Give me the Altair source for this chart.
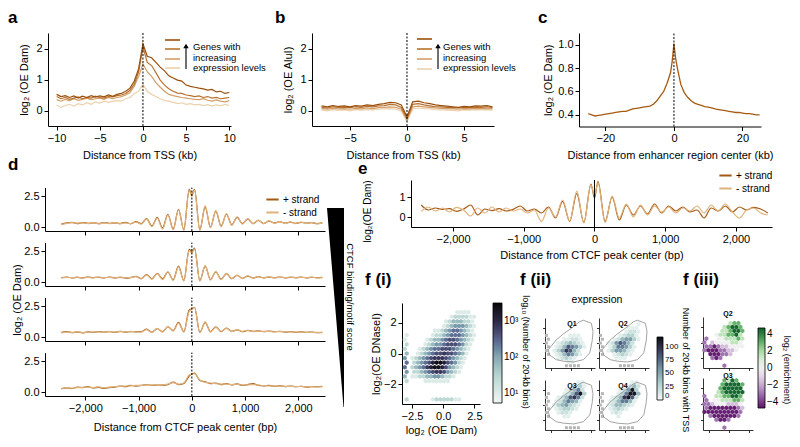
import altair as alt
import pandas as pd

W, H = 784, 431
FONT = "Liberation Sans"

# ---------------- panel a / b : profiles around TSS ----------------
A_X = [i / 2 for i in range(-20, 21)]
A_Q4 = [0.52,0.45,0.48,0.42,0.47,0.40,0.46,0.42,0.48,0.43,0.47,0.44,0.50,0.46,0.52,0.55,0.62,0.72,0.95,1.35,
        2.15,1.75,1.70,1.55,1.40,1.28,1.12,1.05,0.98,0.95,0.82,0.78,0.75,0.72,0.70,0.66,0.68,0.60,0.62,0.55,0.58]
A_Q3 = [0.45,0.38,0.42,0.36,0.40,0.44,0.38,0.42,0.40,0.46,0.42,0.40,0.45,0.44,0.48,0.50,0.55,0.65,0.85,1.25,
        2.05,1.55,1.45,1.22,0.98,0.82,0.70,0.62,0.56,0.55,0.50,0.48,0.45,0.47,0.42,0.45,0.40,0.42,0.38,0.40,0.42]
A_Q2 = [0.35,0.30,0.36,0.32,0.38,0.33,0.36,0.40,0.35,0.38,0.40,0.36,0.42,0.38,0.42,0.45,0.50,0.58,0.78,1.10,
        1.50,1.25,1.10,0.90,0.75,0.62,0.52,0.48,0.45,0.42,0.40,0.38,0.36,0.35,0.38,0.33,0.30,0.34,0.30,0.28,0.32]
A_Q1 = [0.18,0.10,0.16,0.20,0.14,0.22,0.18,0.25,0.20,0.28,0.24,0.30,0.26,0.30,0.32,0.30,0.38,0.42,0.55,0.62,
        0.85,0.62,0.52,0.45,0.38,0.32,0.30,0.26,0.22,0.25,0.20,0.22,0.18,0.20,0.16,0.19,0.14,0.18,0.15,0.20,0.16]

B_X = [i / 2 for i in range(-15, 16)]
B_Q4 = [0.15,0.12,0.16,0.13,0.15,0.12,0.16,0.14,0.18,0.16,0.20,0.22,0.26,0.25,0.18,-0.20,
        0.28,0.30,0.25,0.22,0.18,0.16,0.14,0.12,0.10,0.13,0.12,0.15,0.14,0.16,0.12]
B_Q3 = [0.10,0.08,0.12,0.10,0.11,0.09,0.12,0.10,0.13,0.12,0.15,0.16,0.20,0.18,0.10,-0.25,
        0.20,0.22,0.18,0.15,0.12,0.12,0.10,0.09,0.08,0.10,0.09,0.11,0.10,0.12,0.09]
B_Q2 = [0.06,0.04,0.07,0.05,0.06,0.04,0.07,0.05,0.08,0.06,0.09,0.10,0.12,0.10,0.04,-0.30,
        0.12,0.14,0.12,0.10,0.08,0.07,0.06,0.05,0.04,0.06,0.05,0.07,0.06,0.07,0.05]
B_Q1 = [0.02,-0.01,0.03,0.00,0.02,-0.01,0.03,0.01,0.03,0.02,0.04,0.05,0.06,0.04,-0.02,-0.35,
        0.05,0.08,0.06,0.05,0.03,0.02,0.01,0.00,-0.01,0.02,0.01,0.03,0.02,0.03,0.01]

SER_NAMES = ["q1", "q2", "q3", "q4"]
SER_COLORS = ["#ecd1ae", "#d29d66", "#b8712f", "#9a4e0b"]

# ---------------- panel c : enhancers ----------------
C_X = list(range(-25, 0)) + [-0.5, 0, 0.5] + list(range(1, 26))
C_Y = [0.41,0.40,0.39,0.395,0.40,0.405,0.41,0.415,0.42,0.425,0.43,0.43,0.44,0.45,0.455,0.46,0.465,0.47,0.475,0.49,
       0.52,0.56,0.60,0.67,0.76,
       0.86,1.01,0.88,
       0.80,0.66,0.59,0.55,0.52,0.50,0.49,0.48,0.47,0.465,0.46,0.45,0.445,0.44,0.435,0.43,0.425,0.42,0.42,0.415,
       0.41,0.41,0.405,0.40,0.40]

# ---------------- panel d / e : CTCF peaks ----------------
D_X = [-2450 + 100 * i for i in range(25)] + [0] + [50 + 100 * i for i in range(25)]
D1_P = [0.25,0.35,0.40,0.30,0.38,0.32,0.36,0.30,0.38,0.32,0.36,0.30,0.40,0.28,0.45,
        0.30,0.70,0.10,0.80,-0.05,1.05,-0.15,1.45,-0.20,3.05, 2.60,
        3.05,-0.20,1.65,0.00,1.30,0.10,1.05,0.20,0.80,0.30,0.65,0.30,0.55,0.30,0.50,0.35,0.45,0.33,0.42,0.32,0.40,0.33,0.38,0.30,0.35]
D1_M = [0.22,0.32,0.38,0.33,0.35,0.30,0.38,0.28,0.36,0.30,0.38,0.28,0.35,0.30,0.42,
        0.25,0.65,0.05,0.75,-0.15,1.00,-0.20,1.40,-0.25,2.95, 2.50,
        3.00,-0.25,1.75,-0.05,1.35,0.05,1.10,0.15,0.85,0.25,0.70,0.28,0.58,0.30,0.52,0.32,0.46,0.30,0.44,0.30,0.42,0.30,0.40,0.28,0.36]
D2_P = [0.38,0.42,0.35,0.40,0.36,0.42,0.38,0.40,0.35,0.42,0.36,0.40,0.34,0.38,0.48,
        0.30,0.62,0.28,0.72,0.28,0.83,0.20,1.30,0.14,2.65, 2.45,
        2.75,0.14,1.30,0.22,0.83,0.25,0.70,0.30,0.55,0.32,0.50,0.35,0.45,0.36,0.42,0.38,0.42,0.36,0.40,0.38,0.41,0.36,0.40,0.37,0.39]
D2_M = [0.36,0.40,0.37,0.42,0.34,0.40,0.36,0.42,0.37,0.40,0.34,0.42,0.36,0.40,0.45,
        0.28,0.60,0.25,0.70,0.22,0.85,0.15,1.25,0.10,2.55, 2.35,
        2.70,0.10,1.35,0.18,0.88,0.22,0.72,0.28,0.58,0.30,0.52,0.33,0.46,0.35,0.44,0.36,0.40,0.38,0.42,0.36,0.40,0.38,0.41,0.36,0.38]
D3_P = [0.40,0.45,0.38,0.42,0.36,0.44,0.40,0.46,0.42,0.45,0.40,0.48,0.42,0.46,0.44,
        0.45,0.65,0.40,0.70,0.45,0.85,0.55,1.20,0.45,2.20, 2.30,
        2.42,0.40,1.20,0.45,0.85,0.45,0.75,0.48,0.60,0.45,0.55,0.48,0.52,0.45,0.50,0.45,0.48,0.42,0.46,0.40,0.44,0.40,0.42,0.38,0.40]
D3_M = [0.35,0.42,0.40,0.44,0.38,0.42,0.42,0.44,0.40,0.47,0.42,0.46,0.44,0.48,0.42,
        0.42,0.62,0.38,0.72,0.42,0.88,0.50,1.15,0.42,2.10, 2.25,
        2.40,0.38,1.25,0.42,0.80,0.48,0.72,0.45,0.62,0.48,0.55,0.46,0.50,0.47,0.48,0.44,0.46,0.44,0.44,0.42,0.42,0.40,0.40,0.40,0.38]
D4_P = [0.28,0.35,0.30,0.42,0.38,0.45,0.35,0.40,0.32,0.38,0.42,0.50,0.45,0.55,0.50,
        0.55,0.62,0.56,0.60,0.58,0.62,0.82,0.62,0.72,1.30, 1.50,
        1.55,0.95,0.85,0.70,0.75,0.62,0.70,0.60,0.68,0.55,0.62,0.70,0.55,0.52,0.55,0.48,0.52,0.46,0.50,0.45,0.48,0.42,0.46,0.45,0.48]
D4_M = [0.30,0.38,0.33,0.38,0.40,0.42,0.38,0.44,0.36,0.42,0.45,0.48,0.50,0.52,0.55,
        0.56,0.60,0.58,0.62,0.60,0.66,0.78,0.65,0.75,1.40, 1.45,
        1.50,1.00,0.80,0.75,0.70,0.65,0.66,0.62,0.64,0.58,0.60,0.62,0.58,0.54,0.52,0.50,0.50,0.48,0.48,0.46,0.47,0.44,0.45,0.43,0.45]
E_P = [0.60,0.35,0.45,0.38,0.42,0.28,0.40,0.60,0.10,0.40,0.32,0.42,0.30,0.38,0.55,
       0.30,0.40,0.20,0.50,-0.05,0.78,-0.22,1.18,-0.28,1.65, 0.95,
       1.77,-0.23,1.00,-0.15,0.60,0.10,0.55,0.15,0.65,0.20,0.55,0.30,0.50,0.25,0.35,-0.05,0.45,0.30,0.55,0.25,0.50,0.35,0.48,0.40,0.20]
E_M = [0.28,0.50,0.30,0.45,0.25,0.48,0.35,0.05,0.45,0.20,0.50,0.25,0.45,0.30,0.40,
       0.20,0.35,-0.22,0.45,0.00,0.85,-0.20,1.30,-0.30,1.60, 1.10,
       1.70,-0.28,1.05,-0.05,0.65,0.00,0.60,0.10,0.55,0.25,0.50,0.20,0.45,0.30,0.55,0.20,0.60,0.30,0.65,0.25,-0.05,0.35,0.45,0.20,0.10]
STRANDS = ["+ strand", "- strand"]
STRAND_COLORS = ["#a45a14", "#dfb27c"]

# ---------------- panel f(i) : hexbin density (levels 1-9), rows y=2.7 .. -3.0, cols x=-3.0 .. 2.7 ----------------
F1_ROWS = [
    "00000000000000111100",
    "00000000000012222110",
    "00000000000123332210",
    "00000000001234443210",
    "00000000112345543210",
    "10000001223455543210",
    "10000012334566543210",
    "20000123445666542100",
    "20001234556665432100",
    "30012345667665431000",
    "40123456777654321000",
    "50234568998654210000",
    "50234578998643210000",
    "40223456776432100000",
    "30112233443221000000",
    "20000111111100000000",
    "00000000000000000000",
    "00000000000000000000",
    "00000000000000000000",
    "20000001222221100000",
]
F1_LOG10 = {"1": 1.0, "2": 1.4, "3": 1.8, "4": 2.1, "5": 2.4, "6": 2.65, "7": 2.85, "8": 3.1, "9": 3.4}

# ---------------- panel f(ii) : counts per expression quartile, rows y=3.0 .. -3.0, cols x=-3.0 .. 2.5 ----------------
F2_Q1 = ["000000000000","000000000000","000000000000","000000000000","x00000111000","x00011221000",
         "x00123432100","x01247653100","x01358742000","x01246531000","000123210000","000001100000","00000xxxx000"]
F2_Q2 = ["000000000000","000000000100","000000011100","000000122100","x00001233100","x00124553100",
         "x01257642000","x01366531000","x01355421000","x00123210000","000011100000","000000000000","00000xxxx000"]
F2_Q3 = ["000000001100","000000123100","000001246200","x00012479300","x00124786200","x01246541000",
         "x01345321000","x01233210000","x00122100000","x00011000000","000000000000","000000000000","00000xxxx000"]
F2_Q4 = ["000000001100","000000124200","000001259300","x00013699400","x00124897200","x01246641000",
         "x01244321000","x01232100000","x00121000000","x00010000000","000000000000","000000000000","00000xxxx000"]
F2_COUNT = {"1": 8, "2": 18, "3": 30, "4": 42, "5": 55, "6": 68, "7": 82, "8": 96, "9": 112}
OUT_X = [-2.9, -1.9, -1.0, 0.2, 1.0, 1.5, 2.5, 2.7, 2.6, 2.3, 1.5, 0.3, -1.0, -1.9, -2.7, -2.9]
OUT_Y = [-0.9, 0.4, 1.2, 2.1, 2.8, 3.0, 2.6, 1.5, 0.3, -1.3, -2.2, -2.5, -2.4, -2.2, -1.6, -0.9]

# ---------------- panel f(iii) : log2 enrichment ----------------
F3_Q2 = ["000000000000","000000hgg000","00000hgGGg00","0000hhgGGg00","000whhggGh00","p00wwhhhgh00",
         "p0qwwwwhhw00","ppPpqqwwww00","pPPPppqqw000","0PPPppq00000","00pPp0000000","000000000000","00000p000000"]
F3_Q3 = ["00000ghGg000","0000gGGGGg00","0000gGGGGG00","000hgGGGGG00","p00hhggGGg00","p0wwhhhggh00",
         "ppqwwwqqqw00","pPPPPPPPpq00","PPPPPPPPPp00","0pPPPPPPp000","000pPPp00000","000000000000","00000p000000"]
F3_VAL = {"P": -4.5, "p": -3.0, "q": -1.5, "w": 0.0, "h": 1.5, "g": 3.0, "G": 4.5}

HEX = "M0,-1L0.866,-0.5L0.866,0.5L0,1L-0.866,0.5L-0.866,-0.5Z"


# ================= helpers =================
def lin(domain, rng):
    return alt.Scale(domain=domain, range=rng, nice=False, zero=False)


PX = lin([0, W], [0, W])
PY = lin([0, H], [0, H])


def xaxis(bottom, values=None, fmt=None, title=None, labels=True, tick=4, lpad=2, tpad=5, lsize=11, lw=1.0):
    kw = dict(orient="bottom", offset=bottom - H, tickSize=tick, labels=labels, labelPadding=lpad,
              titlePadding=tpad, labelFontSize=lsize, domainWidth=lw, tickWidth=lw, grid=False,
              labelFlush=False, title=title)
    if values is not None:
        kw["values"] = values
    if fmt is not None:
        kw["format"] = fmt
    return alt.Axis(**kw)


def yaxis(left, values=None, fmt=None, title=None, labels=True, tick=4, lpad=2, tpad=4, lsize=11, lw=1.0,
          title_y=None, tsize=11):
    kw = dict(orient="left", offset=-left, tickSize=tick, labels=labels, labelPadding=lpad,
              titlePadding=tpad, labelFontSize=lsize, titleFontSize=tsize, domainWidth=lw, tickWidth=lw,
              grid=False, labelFlush=False, title=title)
    if values is not None:
        kw["values"] = values
    if fmt is not None:
        kw["format"] = fmt
    if title_y is not None:
        kw["titleY"] = title_y
    return alt.Axis(**kw)


def tidy(xs, series):
    rows = []
    for name, vals in series:
        for x, v in zip(xs, vals):
            rows.append({"x": x, "y": v, "s": name})
    return pd.DataFrame(rows)


def zero_rule(xs, ys, lo, hi, dash=True):
    df = pd.DataFrame({"x": [0.0], "y1": [lo], "y2": [hi]})
    kw = dict(color="black", strokeWidth=1)
    if dash:
        kw["strokeDash"] = [2, 1.5]
    return alt.Chart(df).mark_rule(**kw).encode(
        x=alt.X("x:Q", scale=xs, axis=None),
        y=alt.Y("y1:Q", scale=ys, axis=None),
        y2="y2:Q",
    )


def cell_df(rows, lut, x0, step, ytop, keep):
    recs = []
    for i, row in enumerate(rows):
        shift = step / 4 if i % 2 else -step / 4
        for j, ch in enumerate(row):
            if ch in keep:
                recs.append({"x": x0 + j * step + shift, "y": ytop - i * step, "v": lut.get(ch, 0)})
    return pd.DataFrame(recs)


layers = []

# ================= panel a =================
ax_s, ay_s = lin([-11, 10.2], [40, 223]), lin([-0.5, 2.5], [118, 25])
dfa = tidy(A_X, [("q1", A_Q1), ("q2", A_Q2), ("q3", A_Q3), ("q4", A_Q4)])
layers.append(alt.Chart(dfa).mark_line(strokeWidth=1.2).encode(
    x=alt.X("x:Q", scale=ax_s, axis=xaxis(118, [-10, -5, 0, 5, 10], "d", "Distance from TSS (kb)", tpad=6)),
    y=alt.Y("y:Q", scale=ay_s, axis=yaxis(40, [0, 1, 2], "d", "log₂ (OE Dam)", tpad=6)),
    color=alt.Color("s:N", scale=alt.Scale(domain=SER_NAMES, range=SER_COLORS), legend=None),
))
layers.append(zero_rule(ax_s, ay_s, -0.5, 2.5))

# ================= panel b =================
bx_s, by_s = lin([-8.33, 7.63], [304, 486]), lin([-0.5, 2.5], [118, 25])
dfb = tidy(B_X, [("q1", B_Q1), ("q2", B_Q2), ("q3", B_Q3), ("q4", B_Q4)])
layers.append(alt.Chart(dfb).mark_line(strokeWidth=1.2).encode(
    x=alt.X("x:Q", scale=bx_s, axis=xaxis(118, [-5, 0, 5], "d", "Distance from TSS (kb)", tpad=6)),
    y=alt.Y("y:Q", scale=by_s, axis=yaxis(304, [0, 1, 2], "d", "log₂ (OE AluI)", tpad=6)),
    color=alt.Color("s:N", scale=alt.Scale(domain=SER_NAMES, range=SER_COLORS), legend=None),
))
layers.append(zero_rule(bx_s, by_s, -0.5, 2.5))

# ================= panel c =================
cx_s, cy_s = lin([-27.7, 25.4], [571, 753]), lin([0.3, 1.1], [118.5, 25])
dfc = pd.DataFrame({"x": C_X, "y": C_Y})
layers.append(alt.Chart(dfc).mark_line(strokeWidth=1.3, color="#a65a12").encode(
    x=alt.X("x:Q", scale=cx_s, axis=xaxis(118.5, [-20, 0, 20], "d", "Distance from enhancer region center (kb)", tpad=6)),
    y=alt.Y("y:Q", scale=cy_s, axis=yaxis(571, [0.4, 0.6, 0.8, 1.0], ".1f", "log₂ (OE Dam)")),
))
layers.append(zero_rule(cx_s, cy_s, 0.3, 1.1))

# ================= panel d =================
dx_s = lin([-2757, 2500], [37, 317])
d_rows = [(D1_P, D1_M, 223), (D2_P, D2_M, 278), (D3_P, D3_M, 333), (D4_P, D4_M, 388)]
for k, (pv, mv, bottom) in enumerate(d_rows):
    dy_s = lin([-0.3, 3.2], [bottom, bottom - 43.4])
    last = k == 3
    dfd = tidy(D_X, [("+ strand", pv), ("- strand", mv)])
    leg = alt.Legend(orient="none", legendX=257, legendY=184, title=None, symbolType="stroke",
                     symbolStrokeWidth=2, symbolSize=150, labelFontSize=10, rowPadding=0,
                     labelOffset=3) if k == 0 else None
    xa = xaxis(bottom, [-2000, -1000, 0, 1000, 2000], ",.0f",
               "Distance from CTCF peak center (bp)" if last else None, labels=last, tpad=8)
    layers.append(alt.Chart(dfd).mark_line(strokeWidth=1.2, interpolate="monotone").encode(
        x=alt.X("x:Q", scale=dx_s, axis=xa),
        y=alt.Y("y:Q", scale=dy_s, axis=yaxis(37, [0, 2.5], ".1f")),
        color=alt.Color("s:N", scale=alt.Scale(domain=STRANDS, range=STRAND_COLORS), legend=leg),
    ))
    layers.append(zero_rule(dx_s, dy_s, -0.3, 3.2))

# ================= panel e =================
ex_s, ey_s = lin([-2594, 2510], [403, 764]), lin([-0.5, 1.85], [219, 172])
dfe = tidy(D_X, [("+ strand", E_P), ("- strand", E_M)])
layers.append(alt.Chart(dfe).mark_line(strokeWidth=1.2, interpolate="monotone").encode(
    x=alt.X("x:Q", scale=ex_s, axis=xaxis(219, [-2000, -1000, 0, 1000, 2000], ",.0f", "Distance from CTCF peak center (bp)")),
    y=alt.Y("y:Q", scale=ey_s, axis=yaxis(403, [0, 1], "d", "log₂(OE Dam)", tpad=26, title_y=203, tsize=10)),
    color=alt.Color("s:N", scale=alt.Scale(domain=STRANDS, range=STRAND_COLORS),
                    legend=alt.Legend(orient="none", legendX=710, legendY=160, title=None, symbolType="stroke",
                                      symbolStrokeWidth=2, symbolSize=150, labelFontSize=10, rowPadding=0,
                                      labelOffset=3)),
))
layers.append(zero_rule(ex_s, ey_s, -0.5, 1.85, dash=False))

# ================= panel f(i) =================
f1x, f1y = lin([-3.3, 2.95], [394, 472]), lin([-3.3, 3.3], [396, 295])
df1 = cell_df(F1_ROWS, F1_LOG10, -3.0, 0.3, 2.7, set("123456789"))
layers.append(alt.Chart(df1).mark_point(shape=HEX, filled=True, size=22, opacity=1, strokeWidth=0).encode(
    x=alt.X("x:Q", scale=f1x, axis=xaxis(396, [-2.5, 0, 2.5], ".1f", "log₂ (OE Dam)", tpad=3)),
    y=alt.Y("y:Q", scale=f1y, axis=yaxis(394, [-2, 0, 2], "d", "log₂(OE DNaseI)", tpad=2)),
    color=alt.Color("v:Q", scale=alt.Scale(domain=[0.72, 1.5, 2.0, 2.5, 3.0, 3.5],
                                           range=["#f0f7f5", "#b7d5d1", "#86a6b2", "#59618a", "#2b2745", "#050508"]),
                    legend=alt.Legend(orient="none", legendX=485, legendY=295, direction="vertical", title=None,
                                      gradientLength=100, gradientThickness=9, values=[1, 2, 3],
                                      labelExpr="datum.value == 1 ? '10¹' : datum.value == 2 ? '10²' : '10³'",
                                      labelFontSize=10, labelOverlap=False, gradientStrokeColor="black",
                                      gradientStrokeWidth=0.8)),
))

# ================= panel f(ii) =================
f2_panels = [(F2_Q1, [537, 587], [360, 310]), (F2_Q2, [591, 641], [360, 310]),
             (F2_Q3, [537, 587], [422, 372]), (F2_Q4, [591, 641], [422, 372])]
for k, (grid, xr, yr) in enumerate(f2_panels):
    sx, sy = lin([-3.3, 2.95], xr), lin([-3.3, 3.3], yr)
    dfc2 = cell_df(grid, F2_COUNT, -3.0, 0.5, 3.0, set("123456789"))
    leg = alt.Legend(orient="none", legendX=649, legendY=329, direction="vertical", title=None,
                     gradientLength=63, gradientThickness=6, values=[0, 25, 50, 75, 100],
                     labelFontSize=8, labelOffset=2, labelOverlap=False, gradientStrokeColor="black",
                     gradientStrokeWidth=0.8) if k == 0 else None
    layers.append(alt.Chart(dfc2).mark_point(shape=HEX, filled=True, size=22, opacity=1, strokeWidth=0).encode(
        x=alt.X("x:Q", scale=sx, axis=xaxis(yr[0], [-2.5, 0, 2.5], labels=False, tick=2.5, lw=0.8)),
        y=alt.Y("y:Q", scale=sy, axis=yaxis(xr[0], [-2, 0, 2], labels=False, tick=2.5, lw=0.8)),
        color=alt.Color("v:Q", scale=alt.Scale(domain=[0, 30, 60, 90, 118],
                                               range=["#f5faf9", "#b3d1cf", "#7391a4", "#3f4468", "#0a0a14"]),
                        legend=leg),
    ))
    dfg = cell_df(grid, {}, -3.0, 0.5, 3.0, {"x"})
    layers.append(alt.Chart(dfg).mark_point(shape="square", filled=True, size=9, opacity=1, strokeWidth=0,
                                            color="#b5b5b5").encode(
        x=alt.X("x:Q", scale=sx, axis=None), y=alt.Y("y:Q", scale=sy, axis=None)))
    dfo = pd.DataFrame({"x": OUT_X, "y": OUT_Y, "o": list(range(len(OUT_X)))})
    layers.append(alt.Chart(dfo).mark_line(color="#8c8c8c", strokeWidth=0.8).encode(
        x=alt.X("x:Q", scale=sx, axis=None), y=alt.Y("y:Q", scale=sy, axis=None), order="o:Q"))

# ================= panel f(iii) =================
f3_panels = [(F3_Q2, [695, 745], [360, 309]), (F3_Q3, [695, 745], [422, 370])]
for k, (grid, xr, yr) in enumerate(f3_panels):
    sx, sy = lin([-3.3, 2.95], xr), lin([-3.3, 3.3], yr)
    dfc3 = cell_df(grid, F3_VAL, -3.0, 0.5, 3.0, set(F3_VAL))
    leg = alt.Legend(orient="none", legendX=750, legendY=320, direction="vertical", title=None,
                     gradientLength=80, gradientThickness=7, values=[-4, -2, 0, 2, 4], format="d",
                     labelFontSize=10, labelOverlap=False, gradientStrokeColor="black",
                     gradientStrokeWidth=0.8) if k == 0 else None
    layers.append(alt.Chart(dfc3).mark_point(shape=HEX, filled=True, size=22, opacity=1, strokeWidth=0).encode(
        x=alt.X("x:Q", scale=sx, axis=xaxis(yr[0], [-2.5, 0, 2.5], labels=False, tick=2.5, lw=0.8)),
        y=alt.Y("y:Q", scale=sy, axis=yaxis(xr[0], [-2, 0, 2], labels=False, tick=2.5, lw=0.8)),
        color=alt.Color("v:Q", scale=alt.Scale(scheme="purplegreen", domain=[-4.7, 4.7]), legend=leg),
    ))

# ================= annotations (pixel space) =================
def text_layer(rows, size, weight="normal", angle=0, align="left", baseline="alphabetic"):
    df = pd.DataFrame(rows, columns=["px", "py", "txt"])
    kw = dict(fontSize=size, fontWeight=weight, align=align, baseline=baseline, font=FONT, color="black")
    if angle:
        kw["angle"] = angle
    return alt.Chart(df).mark_text(**kw).encode(
        x=alt.X("px:Q", scale=PX, axis=None), y=alt.Y("py:Q", scale=PY, axis=None), text="txt:N")


layers.append(text_layer([(0, 15, "a"), (267, 15, "b"), (530, 15, "c"), (0, 162, "d"), (350, 166, "e"),
                          (357, 277, "f (i)"), (512, 277, "f (ii)"), (675, 277, "f (iii)")], 17, "bold"))
layers.append(text_layer([(185, 42, "Genes with"), (185, 52.5, "increasing"), (185, 63, "expression levels"),
                          (435, 42, "Genes with"), (435, 52.5, "increasing"), (435, 63, "expression levels")], 9.5))
layers.append(text_layer([(589, 295, "expression")], 10.5, align="center"))
layers.append(text_layer([(564, 316, "Q1"), (615, 316, "Q2"), (564, 378, "Q3"), (615, 378, "Q4"),
                          (720, 306, "Q2"), (720, 368, "Q3")], 7, "bold", align="center", baseline="middle"))
layers.append(text_layer([(342, 289, "CTCF binding/motif score")], 9.5, angle=90, align="center", baseline="middle"))
layers.append(text_layer([(518, 344, "log₁₀ (Number of 20-kb bins)"), (678, 362, "Number of 20-kb bins with TSS"),
                          (779, 362, "log₂ (enrichment)")], 9, angle=90, align="center", baseline="middle"))
layers.append(text_layer([(10, 292, "log₂ (OE Dam)")], 11, angle=270, align="center", baseline="middle"))

# legend glyphs for the expression series (panels a and b)
LG = pd.DataFrame({
    "x1": [157, 157, 157, 157, 409, 409, 409, 409],
    "x2": [172, 172, 172, 172, 424, 424, 424, 424],
    "y": [60, 51, 41, 32, 61, 51, 41, 31],
    "s": SER_NAMES + SER_NAMES,
})
layers.append(alt.Chart(LG).mark_rule(strokeWidth=1.6).encode(
    x=alt.X("x1:Q", scale=PX, axis=None), x2="x2:Q", y=alt.Y("y:Q", scale=PY, axis=None),
    color=alt.Color("s:N", scale=alt.Scale(domain=SER_NAMES, range=SER_COLORS), legend=None)))
ARROW = pd.DataFrame({"x": [178, 430], "y1": [38, 38], "y2": [61, 61]})
layers.append(alt.Chart(ARROW).mark_rule(strokeWidth=1.4, color="#333333").encode(
    x=alt.X("x:Q", scale=PX, axis=None), y=alt.Y("y1:Q", scale=PY, axis=None), y2="y2:Q"))
layers.append(alt.Chart(ARROW).mark_point(shape="triangle-up", filled=True, size=30, opacity=1,
                                           color="black").encode(
    x=alt.X("x:Q", scale=PX, axis=None), y=alt.Y("y1:Q", scale=PY, axis=None)))

# wedge for CTCF binding/motif score
WEDGE = pd.DataFrame({"py": [200, 399], "xl": [319, 335.5], "xr": [336, 336]})
layers.append(alt.Chart(WEDGE).mark_area(orient="horizontal", color="black").encode(
    y=alt.Y("py:Q", scale=PY, axis=None), x=alt.X("xl:Q", scale=PX, axis=None), x2="xr:Q"))

chart = alt.layer(*layers).resolve_scale(
    x="independent", y="independent", color="independent"
).properties(
    width=W, height=H, autosize=alt.AutoSizeParams(type="none"), padding=0
).configure_view(stroke=None).configure_axis(
    labelFont=FONT, titleFont=FONT, titleFontSize=11, titleFontWeight="normal",
    domainColor="black", tickColor="black", labelColor="black", titleColor="black"
).configure_legend(labelFont=FONT, titleFont=FONT, labelColor="black")

chart.save("out.html", embed_options={"renderer": "svg", "actions": False})
